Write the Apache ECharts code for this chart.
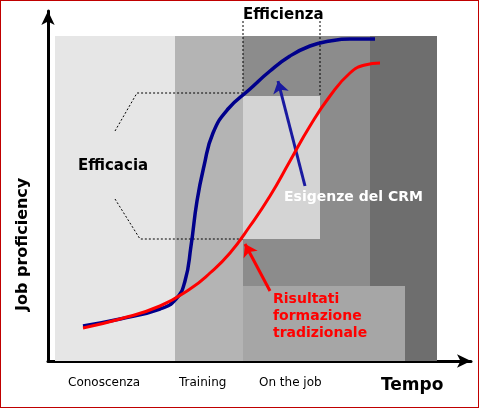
<!DOCTYPE html><html><head><meta charset="utf-8">
<script src="https://cdn.jsdelivr.net/npm/echarts@6/dist/echarts.min.js"></script>
<style>html,body{margin:0;padding:0;background:#fff}#c{width:479px;height:408px;box-sizing:border-box;border:1px solid #c00000}</style>
</head><body><div id="c"></div><script>
// x/y in pixel-based units: x = px-48, y = 360-py
const blueCurve=[[35,35],[72,42],[112,52],[128,62],[137,80],[143,115],[149,160],[156,195],[165,228],[180,252],[202,272],[222,290],[242,305],[262,315],[282,320],[302,322],[327,322]];
const redCurve=[[35,33],[72,42],[112,55],[142,72],[162,88],[182,108],[202,135],[222,165],[242,200],[262,235],[282,265],[302,288],[317,296],[332,298]];
const bands=[[7,127,325,'#e6e6e6'],[127,195,325,'#b4b4b4'],[195,322,325,'#8c8c8c'],[322,389,325,'#6e6e6e']];
const boxRisultati=[195,357,0,75,'#a6a6a6'];
const hatch=[195,272,122,265,'#d4d4d4'];
const phases=['Conoscenza','Training','On the job'];
const phaseLeft=[67,178,258];
const ch=echarts.init(document.getElementById('c'));
const ma=bands.map(b=>[{xAxis:b[0],yAxis:0,itemStyle:{color:b[3]}},{xAxis:b[1],yAxis:b[2]}]);
ma.push([{xAxis:boxRisultati[0],yAxis:boxRisultati[2],itemStyle:{color:boxRisultati[4]}},{xAxis:boxRisultati[1],yAxis:boxRisultati[3]}]);
ma.push([{xAxis:hatch[0],yAxis:hatch[2],itemStyle:{color:hatch[4]}},{xAxis:hatch[1],yAxis:hatch[3]}]);
const dash={type:'line',symbol:'none',lineStyle:{color:'#000',width:1,type:[2,2]},silent:true};
const T=(o)=>Object.assign({type:'text',z:100},o);
ch.setOption({animation:false,
grid:{left:47,top:10,width:423,height:350},
xAxis:{type:'value',min:0,max:423,axisLine:{lineStyle:{color:'#000',width:3},symbol:['none','arrow'],symbolSize:[10,14]},axisTick:{show:false},splitLine:{show:false},axisLabel:{show:false}},
yAxis:{type:'value',min:0,max:350,axisLine:{show:true,lineStyle:{color:'#000',width:3},symbol:['none','arrow'],symbolSize:[10,14]},axisTick:{show:false},splitLine:{show:false},axisLabel:{show:false}},
series:[
{type:'line',data:[],markArea:{silent:true,data:ma}},
Object.assign({data:[[195,340],[195,265]]},dash),
Object.assign({data:[[272,340],[272,265]]},dash),
Object.assign({data:[[67,230],[89,268],[195,268]]},dash),
Object.assign({data:[[67,162],[92,122],[195,122]]},dash),
{type:'line',data:blueCurve,smooth:0.5,symbol:'none',lineStyle:{color:'#00008b',width:3.5}},
{type:'line',data:redCurve,smooth:0.5,symbol:'none',lineStyle:{color:'#ff0000',width:3}},
{type:'lines',coordinateSystem:'cartesian2d',symbol:['none','arrow'],symbolSize:12,data:[
 {coords:[[257,175],[230,280]],lineStyle:{color:'#1a1aa0',width:3,opacity:1}},
 {coords:[[222,70],[197,117]],lineStyle:{color:'#ff0000',width:3,opacity:1}}]}
],
graphic:[
T({left:242,top:7,style:{text:'Efficienza',font:'bold 15px "DejaVu Sans"',fill:'#000'}}),
T({left:77,top:158,style:{text:'Efficacia',font:'bold 15px "DejaVu Sans"',fill:'#000'}}),
T({left:283,top:189,style:{text:'Esigenze del CRM',font:'bold 14px "DejaVu Sans"',fill:'#fff'}}),
T({left:272,top:290,style:{text:'Risultati\nformazione\ntradizionale',font:'bold 14px "DejaVu Sans"',fill:'#ff0000',lineHeight:17}}),
...phases.map((p,i)=>T({left:phaseLeft[i],top:376,style:{text:p,font:'12px "DejaVu Sans"',fill:'#000'}})),
T({left:380,top:376,style:{text:'Tempo',font:'bold 17px "DejaVu Sans"',fill:'#000'}}),
T({x:14,y:310,rotation:Math.PI/2,style:{text:'Job proficiency',font:'bold 16px "DejaVu Sans"',fill:'#000',align:'left',verticalAlign:'top'}})
]});
</script></body></html>
